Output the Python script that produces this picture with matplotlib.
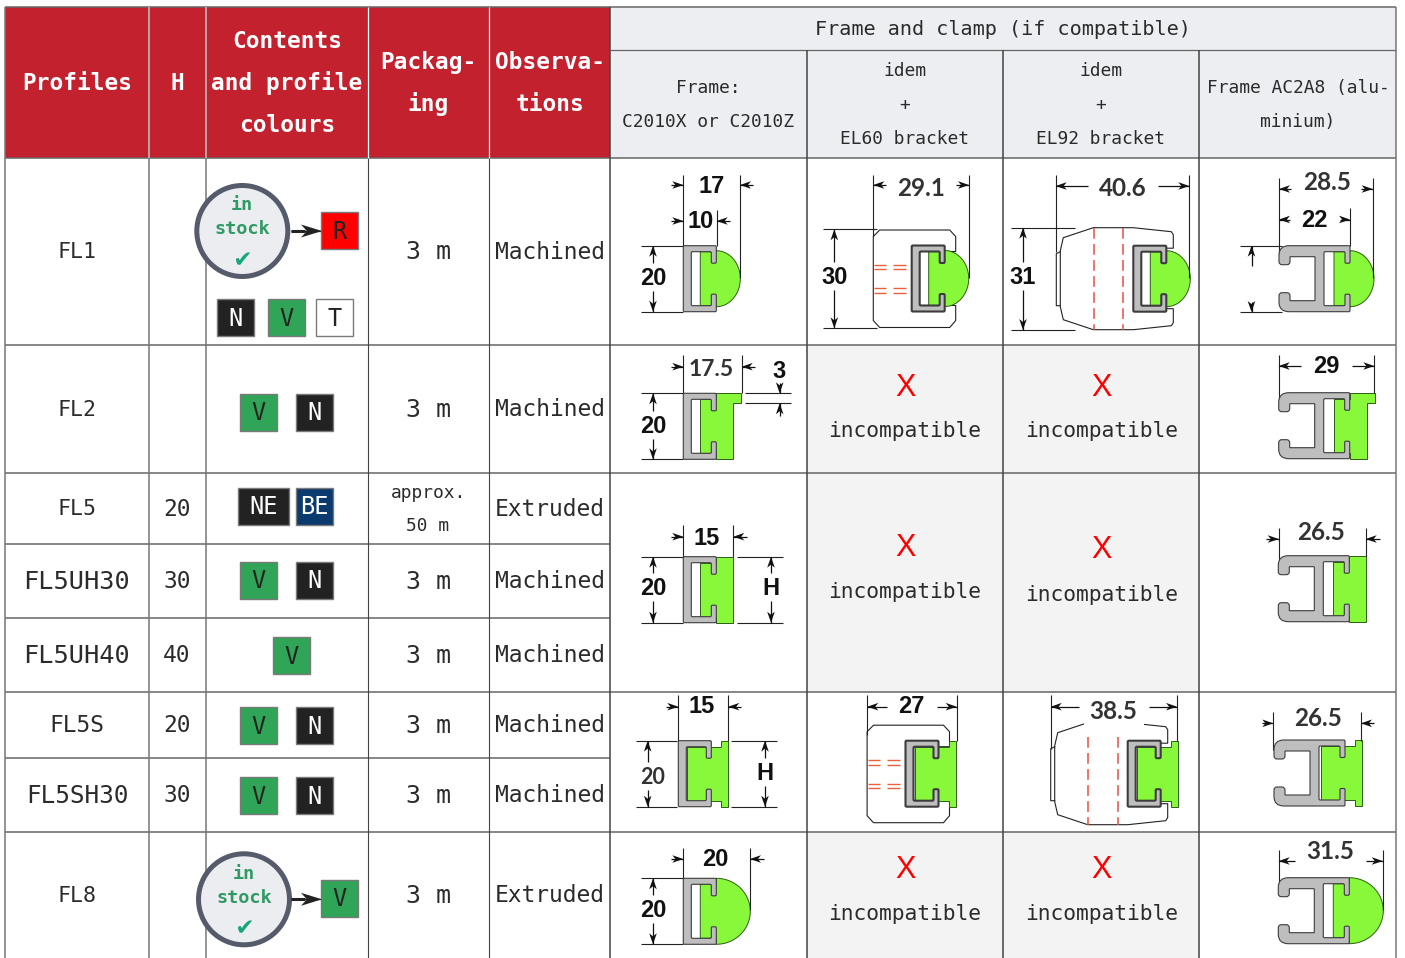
import numpy as np
import matplotlib
matplotlib.use('Agg')
import matplotlib.pyplot as plt
from matplotlib.patches import Rectangle, Circle, Polygon, PathPatch
from matplotlib.path import Path

plt.rcParams['font.family'] = ['DejaVu Sans Mono', 'DejaVu Sans']

profiles = ['FL1', 'FL2', 'FL5', 'FL5UH30', 'FL5UH40', 'FL5S', 'FL5SH30', 'FL8']
profile_sizes = [15.5, 15.5, 15.5, 18.2, 18.2, 16.5, 17.6, 15.5]
h_values = ['', '', '20', '30', '40', '20', '30', '']
packaging = ['3 m', '3 m', 'approx.\n50 m', '3 m', '3 m', '3 m', '3 m', '3 m']
observations = ['Machined', 'Machined', 'Extruded', 'Machined', 'Machined', 'Machined', 'Machined', 'Extruded']
row_y = [251, 409, 508, 581, 655, 725, 795, 895]

col_x = [5, 149, 206, 368, 489, 610, 807, 1003, 1199, 1396]
row_lines = [158, 345, 473, 544, 618, 692, 758, 832]
merged_lines = [544, 618, 758]

RED = '#C4212F'
HEAD_GRAY = '#ECEEF2'
NA_GRAY = '#F3F3F3'
GREEN = '#88F93A'
ALU = '#BEBEBE'
DARK = '#3C3C3C'
SW_GREEN = '#30A457'
TXT = '#2B2B2B'

fig = plt.figure(figsize=(14.05, 9.58), dpi=100)
ax = fig.add_axes([0, 0, 1, 1])
ax.set_xlim(0, 1405)
ax.set_ylim(958, 0)
ax.axis('off')


def line(x1, y1, x2, y2, color='#222222', lw=0.8, z=3, **kw):
    ax.plot([x1, x2], [y1, y2], color=color, lw=lw, zorder=z, solid_capstyle='butt', **kw)


def txt(x, y, s, size=16.5, color=TXT, **kw):
    ax.text(x, y + 1, s, fontsize=size, color=color, ha='center', va='center', zorder=6, **kw)


def dim(x, y, s, size=17):
    ax.text(x, y + 1.5, s, fontsize=size, color='#111111', ha='center', va='center',
            family='Liberation Sans', weight='bold', zorder=6)


def dim2(x, y, s, size=17.5):
    ax.text(x, y + 1.5, s, fontsize=size, color='#333333', ha='center', va='center',
            family='Lato', weight='bold', zorder=6)


def arrow(tx, ty, fx, fy, L=11, w=3.8, color='#111111'):
    # tip at (tx,ty), tail at (fx,fy)
    d = np.array([fx - tx, fy - ty], dtype=float)
    d = d / np.hypot(*d)
    n = np.array([-d[1], d[0]])
    t = np.array([tx, ty], dtype=float)
    line(tx, ty, fx, fy, color=color, lw=0.9)
    pts = [t, t + d * L + n * w, t + d * L * 0.72, t + d * L - n * w]
    ax.add_patch(Polygon(pts, closed=True, fc=color, ec='none', zorder=4))


def round_path(pts, r=1.2):
    verts, codes = [], []
    n = len(pts)
    for i in range(n):
        p = np.array(pts[i][:2], dtype=float)
        rr = pts[i][2] if len(pts[i]) > 2 else r
        a = np.array(pts[i - 1][:2], dtype=float)
        b = np.array(pts[(i + 1) % n][:2], dtype=float)
        pa = p + (a - p) / np.hypot(*(a - p)) * min(rr, np.hypot(*(a - p)) / 2)
        pb = p + (b - p) / np.hypot(*(b - p)) * min(rr, np.hypot(*(b - p)) / 2)
        verts += [pa, p, pb]
        codes += [Path.MOVETO if i == 0 else Path.LINETO, Path.CURVE3, Path.CURVE3]
    verts.append(verts[0])
    codes.append(Path.CLOSEPOLY)
    return Path(verts, codes)


def arc_pts(rx, ry, y_mid=33):
    th = np.linspace(-np.pi / 2, np.pi / 2, 50)
    return [(33 + rx * np.cos(t), y_mid + ry * np.sin(t)) for t in th]


def clip(cx, cy, head, frame=False, thick=False):
    x0 = 9 if head == 'flange' else 17
    if head == 'dome':
        g = [(x0, 6), (33, 6)] + arc_pts(24, 28) + [(33, 60), (x0, 60)]
    elif head == 'big':
        g = [(x0, 6), (33, 6)] + arc_pts(34, 33) + [(33, 60), (x0, 60)]
    elif head == 'wing':
        g = [(x0, 6), (33, 6), (33, 0), (58, 0), (58, 10), (50, 10), (50, 66), (33, 66), (33, 60), (x0, 60)]
    elif head == 'flat':
        g = [(x0, 6), (33, 6), (33, 0), (50, 0), (50, 66), (33, 66), (33, 60), (x0, 60)]
    else:
        g = [(x0, 6), (43, 6), (43, 0), (50, 0), (50, 66), (43, 66), (43, 60), (x0, 60)]
    ax.add_patch(Polygon([(cx + a, cy + b) for a, b in g], closed=True, fc=GREEN,
                         ec='#2E5E14', lw=0.7, zorder=3))
    if frame:
        a = [(-38, 0, 10), (33, 0), (33, 17.5), (28, 17.5), (28, 6), (7, 6), (7, 60), (28, 60),
             (28, 48.5), (33, 48.5), (33, 66), (-38, 66, 10), (-38, 47, 3), (-27, 47, 3), (-27, 55, 0.5),
             (-2, 55, 0.5), (-2, 11, 0.5), (-27, 11, 0.5), (-27, 19, 3), (-38, 19, 3)]
    else:
        a = [(0, 0), (33, 0), (33, 17.5), (28, 17.5), (28, 6), (8, 6), (8, 60), (28, 60),
             (28, 48.5), (33, 48.5), (33, 66), (0, 66)]
    path = round_path([(cx + p[0], cy + p[1]) + tuple(p[2:]) for p in a])
    ax.add_patch(PathPatch(path, fc=ALU, ec=DARK, lw=1.5 if thick else 0.8, zorder=4))


def el60(cx, cy):
    xs = [cx + 33, cx + 44, cx + 44, cx + 38, cx - 32, cx - 38.4, cx - 38.4, cx - 32, cx + 38, cx + 44, cx + 44, cx + 33]
    ys = [cy + 6, cy + 6, cy - 9, cy - 15.5, cy - 15.5, cy - 9, cy + 75, cy + 82, cy + 82, cy + 75, cy + 60, cy + 60]
    ax.plot(xs, ys, color='#222222', lw=0.8, zorder=2)
    for yy in (cy + 19.5, cy + 23.8, cy + 42.8, cy + 47):
        for a, b in ((-38, -26), (-19, -6)):
            line(cx + a, yy, cx + b, yy, color='#E8603C', lw=1.0)


def el92(cx, cy, top=-18):
    xs = [cx + 33, cx + 40, cx + 40, cx + 38, cx, cx - 40, cx - 70, cx - 73, cx - 73, cx - 70,
          cx - 40, cx, cx + 38, cx + 40, cx + 40, cx + 33]
    ys = [cy + 2.5, cy + 2.5, cy - 11, cy - 14, cy - 18, cy - 18, cy - 8, cy + 5, cy + 61, cy + 74,
          cy + 84, cy + 84, cy + 80, cy + 77, cy + 63, cy + 63]
    ax.plot(xs, ys, color='#222222', lw=0.8, zorder=2)
    ax.plot([cx - 73, cx - 77, cx - 77, cx - 73], [cy + 6, cy + 8, cy + 60, cy + 60],
            color='#222222', lw=0.8, zorder=2)
    for a in (-39.4, -10):
        ax.plot([cx + a, cx + a], [cy + top, cy + 84], color='#E8503C', lw=1.1, zorder=2,
                dashes=(7, 3.5))


def vdim20(y1, y2, x_arrow, ylab, xl, xr, s='20', f=dim, size=17):
    line(xl, y1, xr, y1)
    line(xl, y2, xr, y2)
    arrow(x_arrow, y1, x_arrow, ylab - 14)
    arrow(x_arrow, y2, x_arrow, ylab + 14)
    f(x_arrow, ylab, s, size)


def swatch(x, y, s, fc, tc='#222222', w=37):
    ax.add_patch(Rectangle((x, y), w, 37, fc=fc, ec='#7A7A7A', lw=1.0, zorder=3))
    ax.text(x + w / 2, y + 19.5, s, fontsize=17, color=tc, ha='center', va='center', zorder=6)


def stock(cx, cy, y1, y2, y3):
    ax.add_patch(Circle((cx, cy), 45.5, fc='#ECEDF1', ec='#565B6B', lw=3.6, zorder=3))
    txt(cx, y1, 'in', size=13.3, color='#2F9A63', weight='bold')
    txt(cx, y2, 'stock', size=13.3, color='#2F9A63', weight='bold')
    txt(cx, y3, '\u2714', size=19, color='#17A67C')
    arrow(322, cy, 291, cy, L=21, w=6.5, color='#222222')
    line(291, cy, 305, cy, color='#222222', lw=2.2)


# backgrounds
ax.add_patch(Rectangle((5, 7), 605, 151, fc=RED, ec='none', zorder=1))
ax.add_patch(Rectangle((610, 7), 786, 151, fc=HEAD_GRAY, ec='none', zorder=1))
for y0, y1 in ((345, 473), (473, 692), (832, 958)):
    ax.add_patch(Rectangle((807, y0), 392, y1 - y0, fc=NA_GRAY, ec='none', zorder=1))

# grid
line(5, 7, 1396, 7, color='#666666', lw=1.1, z=2)
line(610, 50, 1396, 50, color='#666666', lw=0.9, z=2)
for yy in row_lines:
    line(5, yy, 610 if yy in merged_lines else 1396, yy, color='#666666', lw=1.1, z=2)
for i, xx in enumerate(col_x):
    top = 50 if xx in (807, 1003, 1199) else 7
    color = '#777777' if i in (0, 1, 2, 9) else '#444444'
    line(xx, top, xx, 958, color=color, lw=1.1 if i in (0, 1, 2, 5, 6, 7, 8, 9) else 0.8, z=2)
for xx in (368, 489):
    line(xx, 7, xx, 158, color='white', lw=0.9, z=2)
for xx in (149, 206):
    line(xx, 7, xx, 158, color='#C9B5B8', lw=1.1, z=2)

# header
for s, x, y in [('Profiles', 77, 82), ('H', 177, 82), ('Contents', 287, 40), ('and profile', 287, 82),
                ('colours', 287, 124), ('Packag-', 428, 61), ('ing', 428, 103),
                ('Observa-', 550, 61), ('tions', 550, 103)]:
    txt(x, y, s, size=16.4, color='white', weight='bold')
txt(1003, 28, 'Frame and clamp (if compatible)', size=14.5)
for s, x, y in [('Frame:', 708, 87), ('C2010X or C2010Z', 708, 121), ('idem', 905, 70), ('+', 905, 104),
                ('EL60 bracket', 905, 138), ('idem', 1101, 70), ('+', 1101, 104), ('EL92 bracket', 1101, 138),
                ('Frame AC2A8 (alu-', 1298, 87), ('minium)', 1298, 121)]:
    txt(x, y, s, size=12.9)

# text columns
for i in range(len(profiles)):
    txt(77, row_y[i], profiles[i], size=profile_sizes[i])
    if h_values[i]:
        txt(177, row_y[i], h_values[i], size=16.5)
    if '\n' in packaging[i]:
        a, b = packaging[i].split('\n')
        txt(428, 492, a, size=12.9)
        txt(428, 525, b, size=12.9)
    else:
        txt(428, row_y[i], packaging[i], size=18)
    txt(550, row_y[i], observations[i], size=16.5)

# colour swatches
stock(242.3, 231, 204, 228, 258)
swatch(321, 212, 'R', '#FF0000')
swatch(217, 299, 'N', '#222222', 'white')
swatch(268, 299, 'V', SW_GREEN)
swatch(316, 299, 'T', 'white')
swatch(240, 394, 'V', SW_GREEN)
swatch(296, 394, 'N', '#222222', 'white')
swatch(238, 488, 'NE', '#222222', 'white', w=51)
swatch(296, 488, 'BE', '#0B3A6E', 'white')
swatch(240, 562, 'V', SW_GREEN)
swatch(296, 562, 'N', '#222222', 'white')
swatch(273, 637, 'V', SW_GREEN)
swatch(240, 707, 'V', SW_GREEN)
swatch(296, 707, 'N', '#222222', 'white')
swatch(240, 777, 'V', SW_GREEN)
swatch(296, 777, 'N', '#222222', 'white')
stock(244, 899.3, 873, 897, 926)
swatch(321, 880, 'V', SW_GREEN)

# incompatible cells
for x, y1, y2 in [(905, 385, 430), (1102, 385, 430), (905, 545, 591), (1102, 548, 594),
                  (905, 867, 913), (1102, 867, 913)]:
    ax.text(x, y1 + 2.5, 'X', fontsize=22, color='#FF0000', ha='center', va='center', family='Liberation Sans')
    txt(x, y2, 'incompatible', size=15.3)

# FL1
clip(683.3, 245.7, 'dome')
line(683.3, 175, 683.3, 246)
line(740, 175, 740, 278)
line(716.7, 210, 716.7, 246)
arrow(683.3, 185, 671, 185)
arrow(740, 185, 753, 185)
arrow(683.3, 221, 671, 221)
arrow(716.7, 221, 730, 221)
dim(711.7, 185, '17')
dim(701, 220, '10')
vdim20(245.7, 311.7, 653, 277, 641, 683)

el60(911.7, 245.5)
clip(911.7, 245.5, 'dome', thick=True)
line(873.3, 175, 873.3, 236)
line(969, 175, 969, 278)
arrow(873.3, 185, 886, 185)
arrow(969, 185, 956, 185)
dim2(921, 187, '29.1')
vdim20(229.3, 328.3, 834.3, 276, 823, 877, '30')

el92(1133.3, 245.7)
clip(1133.3, 245.7, 'dome', thick=True)
line(1055.7, 175, 1055.7, 252)
line(1189.3, 175, 1189.3, 278)
arrow(1055.7, 186, 1088, 186)
arrow(1189.3, 186, 1158, 186)
dim2(1123, 187, '40.6')
vdim20(227.7, 330, 1023, 276, 1011, 1075, '31')

clip(1317, 245.7, 'dome', frame=True)
line(1278.7, 178, 1278.7, 255)
line(1350, 208, 1350, 246)
line(1372.7, 178, 1372.7, 278)
arrow(1279, 189, 1291, 189)
arrow(1372.7, 189, 1361, 189)
arrow(1279, 219.5, 1290, 219.5)
arrow(1350, 219.5, 1340, 219.5)
dim2(1327, 181, '28.5')
dim(1314, 219, '22')
line(1240, 245.7, 1282, 245.7)
line(1240, 312, 1282, 312)
arrow(1251.5, 245.7, 1251.5, 266)
arrow(1251.5, 312, 1251.5, 302)

# FL2
clip(683.3, 393.3, 'wing')
line(683.3, 355, 683.3, 393)
line(741.7, 355, 741.7, 393)
arrow(683.3, 366.7, 671, 366.7)
arrow(741.7, 366.7, 755, 366.7)
dim2(711, 368, '17.5', 16.5)
line(745, 393.3, 791, 393.3)
line(745, 403.3, 791, 403.3)
arrow(779.7, 393.3, 779.7, 383)
arrow(779.7, 403.3, 779.7, 416)
dim(779, 370, '3')
vdim20(393.3, 459.3, 653, 425, 641, 683)

clip(1316.7, 392.7, 'wing', frame=True)
line(1278.7, 355, 1278.7, 400)
line(1374.3, 355, 1374.3, 393)
arrow(1278.7, 366, 1301, 366)
arrow(1374.3, 366, 1352, 366)
dim(1326, 365, '29')

# FL5 group
clip(683.3, 556.7, 'flat')
line(683.3, 525, 683.3, 557)
line(733.3, 525, 733.3, 557)
arrow(683.3, 536.7, 671, 536.7)
arrow(733.3, 536.7, 747, 536.7)
dim(707, 537, '15')
vdim20(556.7, 622.7, 653, 587, 641, 683)
vdim20(556.7, 622.7, 771, 587, 737, 783, 'H')

clip(1316.3, 555.7, 'flat', frame=True)
line(1278.7, 528, 1278.7, 565)
line(1365.7, 528, 1365.7, 556)
arrow(1278.7, 539, 1266, 539)
arrow(1365.7, 539, 1380, 539)
dim2(1321, 531, '26.5')

# FL5S
clip(678.3, 740.7, 'flange')
line(678.3, 695, 678.3, 741)
line(728.3, 695, 728.3, 741)
arrow(678.3, 706.7, 666, 706.7)
arrow(728.3, 706.7, 741, 706.7)
dim(702, 705, '15')
line(636, 740.7, 677, 740.7)
line(636, 806.7, 677, 806.7)
arrow(647.7, 740.7, 647.7, 762)
arrow(647.7, 806.7, 647.7, 790)
dim2(653, 776, '20', 15.5)
vdim20(740.7, 806.7, 765, 772, 731, 777, 'H')

el60(905.5, 740.7)
clip(905.5, 740.7, 'flange', thick=True)
line(867.3, 695, 867.3, 735)
line(956.7, 695, 956.7, 741)
arrow(867.3, 706.7, 887, 706.7)
arrow(956.7, 706.7, 937, 706.7)
dim(911.7, 705, '27')

el92(1127.7, 740.7, top=-4)
ax.add_patch(Rectangle((1084, 720), 60, 15, fc='white', ec='none', zorder=2.5))
clip(1127.7, 740.7, 'flange', thick=True)
line(1050.7, 695, 1050.7, 749)
line(1177, 695, 1177, 741)
arrow(1050.7, 706.7, 1079, 706.7)
arrow(1177, 706.7, 1149, 706.7)
dim2(1113, 710, '38.5')

clip(1312, 740, 'flange', frame=True)
line(1273.3, 712, 1273.3, 750)
line(1361, 712, 1361, 741)
arrow(1273.3, 723.3, 1262, 723.3)
arrow(1361, 723.3, 1374, 723.3)
dim2(1318, 717, '26.5')

# FL8
clip(683.3, 878.3, 'big')
line(683.3, 848, 683.3, 878)
line(750, 848, 750, 910)
arrow(683.3, 859, 671, 859)
arrow(750, 859, 764, 859)
dim(715, 858, '20')
vdim20(878.3, 944.3, 653, 909, 641, 683)

clip(1316.3, 877.7, 'big', frame=True)
line(1278.7, 850, 1278.7, 887)
line(1382.7, 850, 1382.7, 910)
arrow(1278.7, 861, 1295, 861)
arrow(1382.7, 861, 1366, 861)
dim2(1330, 850, '31.5')

fig.savefig('out.png', dpi=100)
